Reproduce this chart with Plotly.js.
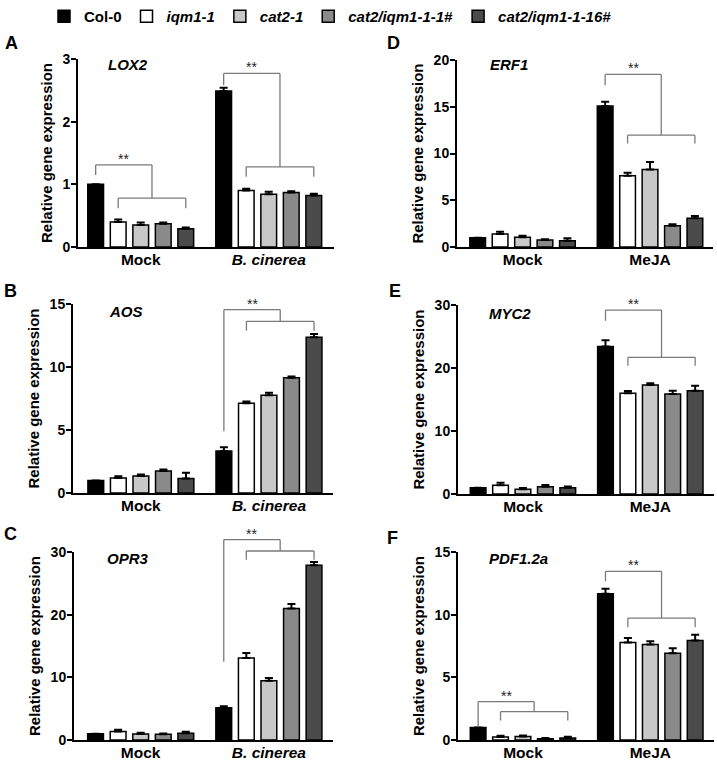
<!DOCTYPE html>
<html><head><meta charset="utf-8">
<script src="https://cdn.plot.ly/plotly-3.0.1.min.js"></script>
<style>html,body{margin:0;padding:0;background:#fff}</style>
</head><body><div id="chart" style="width:717px;height:761px"></div>
<script>
// ---------- data ----------
const genotypes = ['Col-0', 'iqm1-1', 'cat2-1', 'cat2/iqm1-1-1#', 'cat2/iqm1-1-16#'];
const genotypeItalic = [false, true, true, true, true];
const fillColors = ['#000000', '#ffffff', '#c8c8c8', '#8a8a8a', '#4b4b4b'];

const conditionsBotrytis = ['Mock', 'B. cinerea'];
const conditionsMeJA = ['Mock', 'MeJA'];
const tickTextBotrytis = ['Mock', '<i>B. cinerea</i>'];
const tickTextMeJA = ['Mock', 'MeJA'];

const genes = ['LOX2', 'AOS', 'OPR3', 'ERF1', 'MYC2', 'PDF1.2a'];
const panelLetters = ['A', 'B', 'C', 'D', 'E', 'F'];
const yMax = [3, 15, 30, 20, 30, 15];
const yDtick = [1, 5, 10, 5, 10, 5];

// relative expression per genotype (Col-0, iqm1-1, cat2-1, 1#, 16#)
const lox2Mock = [1.00, 0.40, 0.35, 0.37, 0.29];
const lox2MockErr = [0.00, 0.04, 0.04, 0.02, 0.02];
const lox2Bc = [2.49, 0.90, 0.84, 0.87, 0.82];
const lox2BcErr = [0.05, 0.03, 0.04, 0.02, 0.03];

const aosMock = [1.00, 1.20, 1.35, 1.75, 1.15];
const aosMockErr = [0.00, 0.12, 0.12, 0.12, 0.45];
const aosBc = [3.33, 7.12, 7.75, 9.15, 12.36];
const aosBcErr = [0.30, 0.15, 0.20, 0.10, 0.25];

const opr3Mock = [1.00, 1.35, 0.96, 0.90, 1.06];
const opr3MockErr = [0.00, 0.30, 0.20, 0.15, 0.25];
const opr3Bc = [5.15, 13.10, 9.45, 21.00, 27.90];
const opr3BcErr = [0.25, 0.80, 0.45, 0.70, 0.50];

const erf1Mock = [1.00, 1.39, 1.04, 0.75, 0.68];
const erf1MockErr = [0.00, 0.25, 0.15, 0.07, 0.25];
const erf1MeJA = [15.08, 7.63, 8.30, 2.28, 3.07];
const erf1MeJAErr = [0.45, 0.32, 0.80, 0.14, 0.25];

const myc2Mock = [1.00, 1.40, 0.74, 1.16, 1.00];
const myc2MockErr = [0.00, 0.40, 0.20, 0.27, 0.20];
const myc2MeJA = [23.40, 15.98, 17.30, 15.87, 16.40];
const myc2MeJAErr = [1.00, 0.37, 0.27, 0.50, 0.80];

const pdfMock = [1.00, 0.24, 0.27, 0.10, 0.16];
const pdfMockErr = [0.00, 0.10, 0.08, 0.06, 0.10];
const pdfMeJA = [11.67, 7.78, 7.62, 6.93, 7.94];
const pdfMeJAErr = [0.40, 0.35, 0.25, 0.40, 0.45];

// significance brackets (data units)
const bracketPanel = [0, 0, 1, 2, 3, 4, 5, 5];
const bracketCond = [0, 1, 1, 1, 1, 1, 0, 1];
const bracketTop = [1.31, 2.77, 14.55, 31.97, 18.46, 29.2, 3.06, 13.46];
const bracketLeftEnd = [1.15, 2.58, 4.9, 12.48, 17.3, 27.5, 1.07, 12.66];
const bracketLow = [0.78, 1.28, 13.62, 30.16, 11.96, 21.7, 2.26, 9.73];
const bracketLowEnd = [0.62, 1.12, 12.88, 28.78, 11.07, 20.37, 1.55, 9.0];
const bracketLabel = '**';

// ---------- layout helpers (pixels in a 717x761 page) ----------
const W = 717, H = 761;
const domX = [[78, 334], [73, 333], [74, 333], [457, 713], [458, 714], [458, 714]];
const domY = [[59, 247], [304, 493], [552, 740], [60, 247], [305, 494], [552, 740]];
const xRange = [[-0.49, 1.51], [-0.53, 1.5], [-0.52, 1.5], [-0.514, 1.494], [-0.51, 1.5], [-0.51, 1.5]];
const genePos = [[106, 65], [107, 311], [105, 558], [488, 65], [487, 313], [487, 558]];
const letterPos = [[3, 43], [2, 291], [2, 534], [385, 43], [387, 291], [385, 538]];

const BARGAP = 0.12, BARGROUPGAP = 0.3;
const FONT = 'Liberation Sans, Arial, Helvetica, sans-serif';

const panels = [
  {conds: conditionsBotrytis, tt: tickTextBotrytis, a: lox2Mock, ae: lox2MockErr, b: lox2Bc, be: lox2BcErr},
  {conds: conditionsBotrytis, tt: tickTextBotrytis, a: aosMock, ae: aosMockErr, b: aosBc, be: aosBcErr},
  {conds: conditionsBotrytis, tt: tickTextBotrytis, a: opr3Mock, ae: opr3MockErr, b: opr3Bc, be: opr3BcErr},
  {conds: conditionsMeJA, tt: tickTextMeJA, a: erf1Mock, ae: erf1MockErr, b: erf1MeJA, be: erf1MeJAErr},
  {conds: conditionsMeJA, tt: tickTextMeJA, a: myc2Mock, ae: myc2MockErr, b: myc2MeJA, be: myc2MeJAErr},
  {conds: conditionsMeJA, tt: tickTextMeJA, a: pdfMock, ae: pdfMockErr, b: pdfMeJA, be: pdfMeJAErr}
];

const traces = [];
const layout = {
  width: W, height: H,
  margin: {l: 0, r: 0, t: 0, b: 0},
  paper_bgcolor: '#ffffff', plot_bgcolor: '#ffffff',
  barmode: 'group', bargap: BARGAP, bargroupgap: BARGROUPGAP,
  showlegend: true,
  legend: {
    orientation: 'h', x: 44 / W, xanchor: 'left', y: 1, yanchor: 'top',
    font: {family: FONT, size: 15, color: '#000', weight: 700},
    itemwidth: 30, tracegroupgap: 0, bgcolor: 'rgba(0,0,0,0)'
  },
  font: {family: FONT, color: '#000'},
  shapes: [], annotations: []
};

panels.forEach((p, k) => {
  const sfx = k === 0 ? '' : String(k + 1);
  genotypes.forEach((g, i) => {
    traces.push({
      type: 'bar',
      x: p.conds,
      y: [p.a[i], p.b[i]],
      name: genotypeItalic[i] ? '<i>' + g + '</i>' : g,
      legendgroup: g,
      showlegend: k === 0,
      xaxis: 'x' + sfx, yaxis: 'y' + sfx,
      marker: {color: fillColors[i], line: {color: '#000', width: 1.5}},
      error_y: {type: 'data', symmetric: false, array: [p.ae[i], p.be[i]], arrayminus: [0, 0],
                color: '#000', thickness: 2, width: 4},
      hoverinfo: 'skip'
    });
  });
  layout['xaxis' + sfx] = {
    domain: [domX[k][0] / W, domX[k][1] / W],
    anchor: 'y' + sfx,
    type: 'category',
    range: xRange[k],
    tickvals: p.conds, ticktext: p.tt,
    ticks: '', showgrid: false, zeroline: false,
    showline: true, linecolor: '#000', linewidth: 2,
    tickfont: {family: FONT, size: 15.5, color: '#000', weight: 700},
    ticklabelstandoff: -3,
    fixedrange: true
  };
  layout['yaxis' + sfx] = {
    domain: [1 - domY[k][1] / H, 1 - domY[k][0] / H],
    anchor: 'x' + sfx,
    range: [0, yMax[k]], dtick: yDtick[k], tick0: 0,
    ticks: 'outside', ticklen: 5, tickwidth: 2, tickcolor: '#000',
    showgrid: false, zeroline: false,
    showline: true, linecolor: '#000', linewidth: 2,
    tickfont: {family: FONT, size: 14, color: '#000', weight: 700},
    ticklabelstandoff: -2,
    title: {text: 'Relative gene expression', standoff: 6,
            font: {family: FONT, size: 15, color: '#000', weight: 700}},
    fixedrange: true
  };
  layout.annotations.push({
    xref: 'paper', yref: 'paper', x: genePos[k][0] / W, y: 1 - genePos[k][1] / H,
    xanchor: 'left', yanchor: 'middle', showarrow: false,
    text: '<b><i>' + genes[k] + '</i></b>',
    font: {family: FONT, size: 15, color: '#000'}
  });
  layout.annotations.push({
    xref: 'paper', yref: 'paper', x: letterPos[k][0] / W, y: 1 - letterPos[k][1] / H,
    xanchor: 'left', yanchor: 'middle', showarrow: false,
    text: '<b>' + panelLetters[k] + '</b>',
    font: {family: FONT, size: 18, color: '#000'}
  });
});

// bar centre offset within a category group
const groupW = 1 - BARGAP;
const slotW = groupW / genotypes.length;
function barCenter(i, c) { return c - groupW / 2 + slotW * (i + 0.5); }

const lineStyle = {color: '#7a7a7a', width: 1.3};
bracketPanel.forEach((k, b) => {
  const sfx = k === 0 ? '' : String(k + 1);
  const xr = 'x' + sfx, yr = 'y' + sfx + ' domain';
  const c = bracketCond[b], ym = yMax[k];
  const xc = barCenter(0, c), xl = barCenter(1, c), xrr = barCenter(genotypes.length - 1, c);
  const xj = (xl + xrr) / 2;
  const segs = [
    [xc, bracketLeftEnd[b], xc, bracketTop[b]],
    [xc, bracketTop[b], xj, bracketTop[b]],
    [xj, bracketTop[b], xj, bracketLow[b]],
    [xl, bracketLow[b], xrr, bracketLow[b]],
    [xl, bracketLow[b], xl, bracketLowEnd[b]],
    [xrr, bracketLow[b], xrr, bracketLowEnd[b]]
  ];
  segs.forEach(s => layout.shapes.push({
    type: 'line', xref: xr, yref: yr,
    x0: s[0], y0: s[1] / ym, x1: s[2], y1: s[3] / ym,
    line: lineStyle, layer: 'above'
  }));
  layout.annotations.push({
    xref: xr, yref: yr, x: (xc + xj) / 2, y: bracketTop[b] / ym,
    xanchor: 'center', yanchor: 'bottom', yshift: -4, showarrow: false,
    text: bracketLabel, font: {family: FONT, size: 14, color: '#222'}
  });
});

Plotly.newPlot('chart', traces, layout, {displayModeBar: false, staticPlot: true});
</script></body></html>
